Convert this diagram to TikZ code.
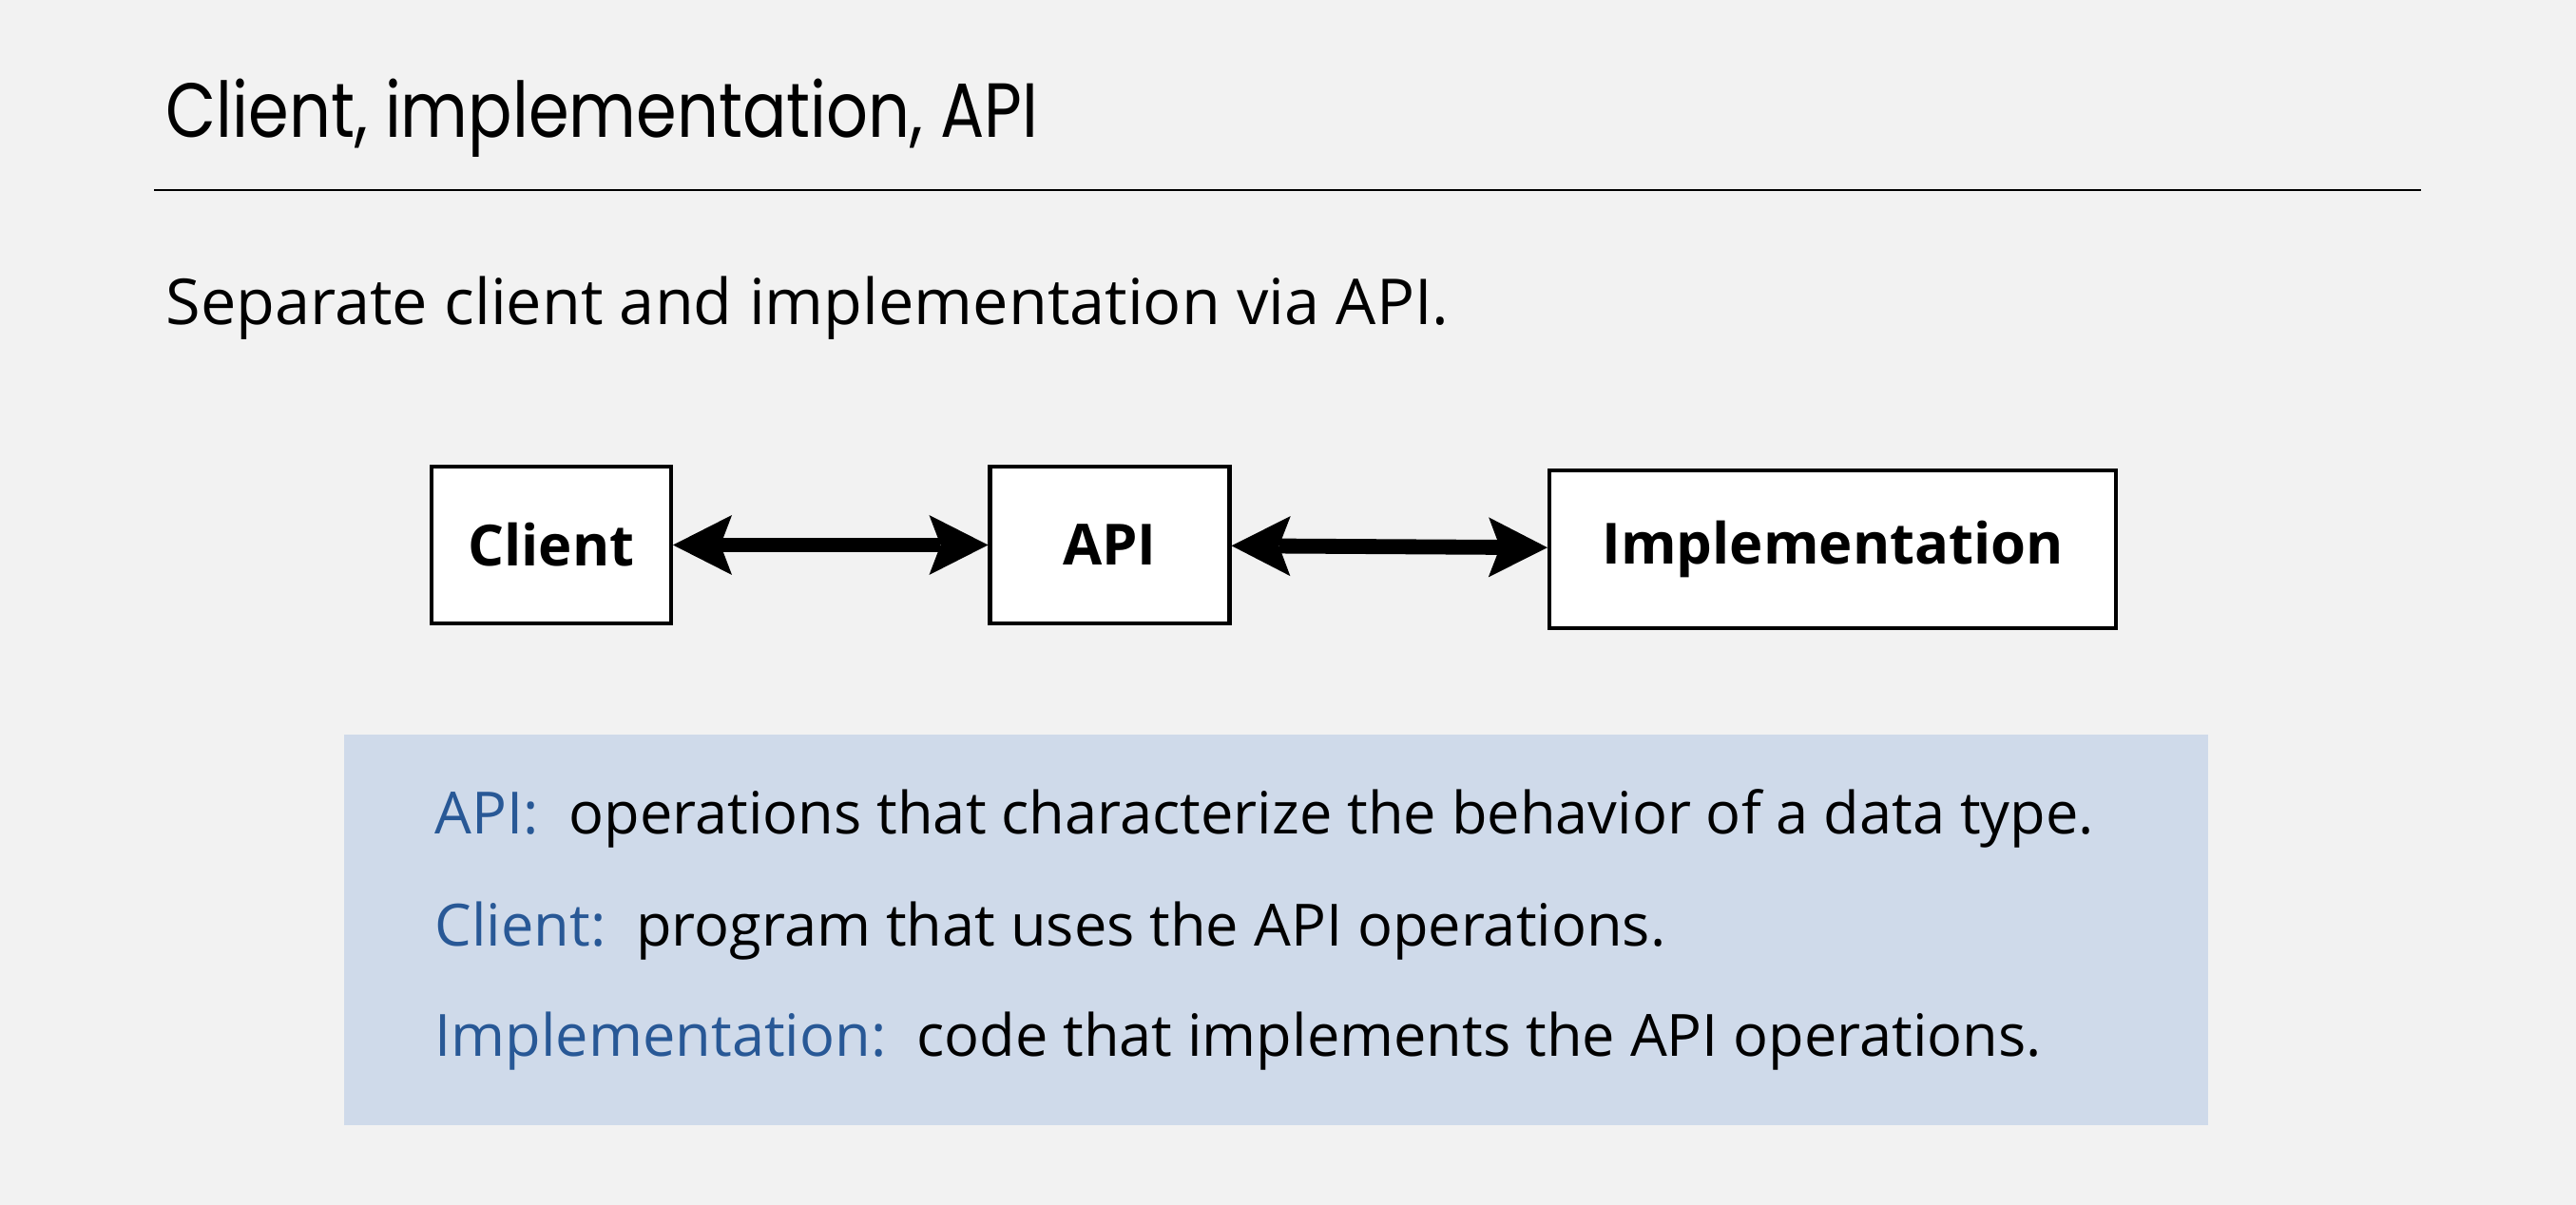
\documentclass[tikz,border=0pt]{standalone}
\usepackage{fontspec}
\setmainfont{Open Sans}
\newfontfamily\headfont[FakeStretch=0.85]{Poppins}
\usetikzlibrary{arrows.meta}
\definecolor{pagegray}{RGB}{242,242,242}
\definecolor{noteblue}{RGB}{207,218,234}
\definecolor{termblue}{RGB}{40,88,150}
\begin{document}
\begin{tikzpicture}[
  box/.style={draw, line width=1.15pt, fill=white, inner sep=0pt,
    font=\bfseries\fontsize{17}{20}\selectfont},
  biarrow/.style={line width=4.5pt,
    {Stealth[length=6.2mm,width=6.3mm,inset=1.2mm,line width=0pt]}-{Stealth[length=6.2mm,width=6.3mm,inset=1.2mm,line width=0pt]}},
  textline/.style={anchor=base west, inner sep=0pt, font=\fontsize{17.45}{20}\selectfont}
]
\fill[pagegray] (0,0) rectangle (27.1,-12.68);
\node[anchor=base west, inner sep=0pt, font=\headfont\fontsize{23}{28}\selectfont] (title) at (1.74,-1.45) {Client, implementation, API};
\draw[line width=0.7pt] (1.62,-2.0) -- (25.47,-2.0);
\node[textline, font=\fontsize{18.95}{22}\selectfont] (sub) at (1.74,-3.42) {Separate client and implementation via API.};
\node[box, minimum width=2.52cm, minimum height=1.65cm] (client) at (5.80,-5.735) {Client};
\node[box, minimum width=2.52cm, minimum height=1.65cm] (api) at (11.675,-5.735) {API};
\node[box, minimum width=5.96cm, minimum height=1.66cm] (impl) at (19.28,-5.78) {Implementation};
\draw[biarrow] (client) -- (api);
\draw[biarrow] (api) -- (impl);
\fill[noteblue] (3.62,-7.73) rectangle (23.23,-11.84);
\node[textline] (defapi) at (4.57,-8.78) {\textcolor{termblue}{API:}\ \ operations that characterize the behavior of a data type.};
\node[textline] (defclient) at (4.57,-9.95) {\textcolor{termblue}{Client:}\ \ program that uses the API operations.};
\node[textline] (defimpl) at (4.57,-11.12) {\textcolor{termblue}{Implementation:}\ \ code that implements the API operations.};
\end{tikzpicture}
\end{document}
